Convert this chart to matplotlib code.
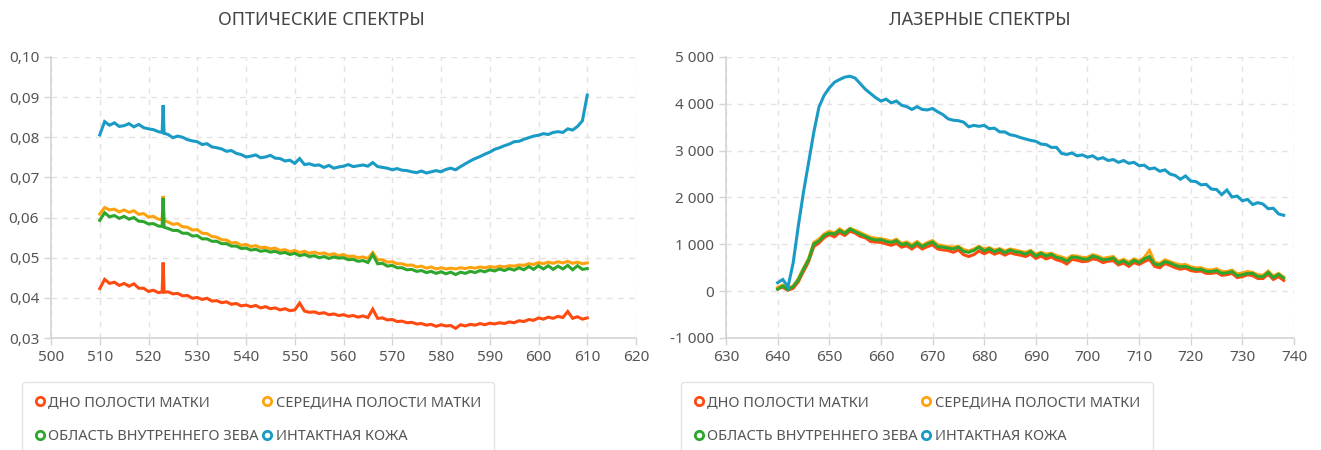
import numpy as np
import matplotlib
matplotlib.use("Agg")
import matplotlib.pyplot as plt
from matplotlib.lines import Line2D
from matplotlib.ticker import FuncFormatter, MultipleLocator

plt.rcParams['font.family'] = ['Noto Sans', 'DejaVu Sans']

labels = ["ДНО ПОЛОСТИ МАТКИ", "СЕРЕДИНА ПОЛОСТИ МАТКИ",
          "ОБЛАСТЬ ВНУТРЕННЕГО ЗЕВА", "ИНТАКТНАЯ КОЖА"]
colors = ["#ff4a10", "#ffa20f", "#2ea62e", "#1a9bc6"]

# ---- optical spectra (nm 510..610, extra points around the 523 nm spike)
wl_opt = list(range(510, 523)) + [522.8, 523.0, 523.2] + list(range(524, 611))

opt_red = [0.0423, 0.0446, 0.0436, 0.0439, 0.0431, 0.0436, 0.0429, 0.0435, 0.0424, 0.0424, 0.0416, 0.0419, 0.0413,
           0.0415, 0.0488, 0.0414,
           0.0415, 0.0410, 0.0411, 0.0405, 0.0406, 0.0399, 0.0401, 0.0396, 0.0399, 0.0392,
           0.0393, 0.0388, 0.0390, 0.0384, 0.0386, 0.0380, 0.0382, 0.0378, 0.0381, 0.0375,
           0.0378, 0.0373, 0.0375, 0.0370, 0.0373, 0.0368, 0.0370, 0.0387, 0.0367, 0.0364,
           0.0365, 0.0361, 0.0363, 0.0358, 0.0360, 0.0356, 0.0358, 0.0354, 0.0356, 0.0352,
           0.0355, 0.0351, 0.0372, 0.0349, 0.0350, 0.0345, 0.0346, 0.0341, 0.0342, 0.0338,
           0.0339, 0.0335, 0.0336, 0.0332, 0.0334, 0.0329, 0.0333, 0.0330, 0.0331, 0.0324,
           0.0333, 0.0330, 0.0334, 0.0332, 0.0336, 0.0333, 0.0337, 0.0335, 0.0338, 0.0336,
           0.0340, 0.0338, 0.0343, 0.0341, 0.0346, 0.0344, 0.0350, 0.0347, 0.0352, 0.0349,
           0.0354, 0.0351, 0.0366, 0.0349, 0.0353, 0.0347, 0.0350]
opt_orange = [0.0609, 0.0625, 0.0619, 0.0621, 0.0614, 0.0619, 0.0613, 0.0617, 0.0608, 0.0610, 0.0601, 0.0603, 0.0596,
              0.0595, 0.0654, 0.0593,
              0.0589, 0.0583, 0.0585, 0.0577, 0.0576, 0.0569, 0.0570, 0.0561, 0.0560, 0.0553,
              0.0551, 0.0545, 0.0544, 0.0537, 0.0538, 0.0531, 0.0533, 0.0528, 0.0530, 0.0525,
              0.0526, 0.0522, 0.0524, 0.0518, 0.0520, 0.0515, 0.0518, 0.0513, 0.0516, 0.0511,
              0.0514, 0.0510, 0.0512, 0.0507, 0.0510, 0.0505, 0.0508, 0.0503, 0.0504, 0.0500,
              0.0502, 0.0498, 0.0513, 0.0495, 0.0495, 0.0489, 0.0490, 0.0485, 0.0485, 0.0481,
              0.0482, 0.0477, 0.0479, 0.0474, 0.0477, 0.0472, 0.0475, 0.0472, 0.0474, 0.0472,
              0.0475, 0.0473, 0.0476, 0.0474, 0.0477, 0.0475, 0.0478, 0.0476, 0.0479, 0.0477,
              0.0480, 0.0479, 0.0482, 0.0481, 0.0485, 0.0483, 0.0488, 0.0485, 0.0489, 0.0486,
              0.0490, 0.0487, 0.0491, 0.0486, 0.0489, 0.0485, 0.0487]
opt_green = [0.0593, 0.0612, 0.0602, 0.0605, 0.0598, 0.0603, 0.0596, 0.0600, 0.0591, 0.0590, 0.0584, 0.0585, 0.0579,
             0.0578, 0.0649, 0.0576,
             0.0573, 0.0568, 0.0568, 0.0561, 0.0561, 0.0554, 0.0555, 0.0547, 0.0547, 0.0541,
             0.0541, 0.0535, 0.0535, 0.0529, 0.0529, 0.0523, 0.0524, 0.0519, 0.0521, 0.0516,
             0.0518, 0.0514, 0.0516, 0.0511, 0.0513, 0.0508, 0.0511, 0.0505, 0.0508, 0.0503,
             0.0505, 0.0500, 0.0503, 0.0498, 0.0502, 0.0499, 0.0500, 0.0495, 0.0496, 0.0491,
             0.0493, 0.0488, 0.0508, 0.0485, 0.0486, 0.0479, 0.0481, 0.0475, 0.0475, 0.0470,
             0.0471, 0.0466, 0.0468, 0.0463, 0.0466, 0.0461, 0.0465, 0.0460, 0.0464, 0.0458,
             0.0464, 0.0461, 0.0466, 0.0463, 0.0468, 0.0465, 0.0470, 0.0467, 0.0472, 0.0468,
             0.0473, 0.0469, 0.0475, 0.0470, 0.0478, 0.0471, 0.0480, 0.0472, 0.0480, 0.0471,
             0.0479, 0.0472, 0.0481, 0.0470, 0.0480, 0.0471, 0.0473]
opt_blue = [0.0806, 0.0839, 0.0830, 0.0836, 0.0827, 0.0829, 0.0834, 0.0826, 0.0832, 0.0824, 0.0821, 0.0819, 0.0814,
            0.0812, 0.0880, 0.0810,
            0.0807, 0.0799, 0.0803, 0.0800, 0.0794, 0.0791, 0.0789, 0.0782, 0.0784, 0.0776,
            0.0774, 0.0771, 0.0765, 0.0767, 0.0760, 0.0757, 0.0751, 0.0753, 0.0756, 0.0749,
            0.0751, 0.0755, 0.0748, 0.0747, 0.0741, 0.0743, 0.0735, 0.0747, 0.0732, 0.0734,
            0.0730, 0.0731, 0.0725, 0.0730, 0.0723, 0.0726, 0.0728, 0.0732, 0.0727, 0.0729,
            0.0731, 0.0728, 0.0737, 0.0727, 0.0725, 0.0723, 0.0719, 0.0722, 0.0718, 0.0717,
            0.0714, 0.0712, 0.0716, 0.0711, 0.0714, 0.0717, 0.0714, 0.0720, 0.0723, 0.0719,
            0.0727, 0.0734, 0.0741, 0.0747, 0.0752, 0.0758, 0.0763, 0.0770, 0.0774, 0.0779,
            0.0783, 0.0789, 0.0790, 0.0795, 0.0799, 0.0803, 0.0805, 0.0809, 0.0807, 0.0812,
            0.0814, 0.0812, 0.0821, 0.0818, 0.0827, 0.0841, 0.0905]

# ---- laser spectra (nm 640..738)
wl_las = list(range(640, 739))

las_red = [60, 80, 20, 60, 200, 420, 630, 950, 1030, 1140, 1210, 1160, 1250, 1190, 1280,
           1240, 1170, 1140, 1060, 1050, 1040, 1010, 980, 1020, 940, 970, 900, 980, 900, 950,
           990, 900, 880, 870, 830, 880, 780, 740, 780, 860, 800, 850, 790, 830, 770,
           820, 790, 770, 740, 790, 700, 750, 690, 730, 670, 640, 580, 680, 660, 630,
           640, 690, 670, 610, 640, 650, 560, 600, 530, 610, 570, 630, 680, 530, 500,
           590, 550, 500, 470, 490, 440, 420, 430, 380, 380, 400, 340, 350, 380, 290,
           310, 350, 330, 270, 270, 360, 250, 310, 230]
las_orange = [80, 130, 70, 110, 270, 490, 700, 1040, 1110, 1220, 1280, 1240, 1330, 1260, 1340,
              1300, 1250, 1200, 1150, 1130, 1120, 1100, 1060, 1110, 1020, 1050, 990, 1060, 980, 1040,
              1080, 990, 970, 950, 940, 960, 890, 860, 900, 960, 900, 930, 880, 910, 860,
              900, 880, 850, 830, 870, 790, 830, 790, 810, 760, 730, 690, 760, 750, 720,
              720, 780, 750, 700, 720, 740, 640, 680, 620, 690, 650, 720, 870, 620, 590,
              670, 630, 590, 560, 570, 520, 500, 500, 460, 450, 480, 420, 420, 450, 370,
              390, 420, 400, 350, 340, 430, 320, 380, 300]
las_green = [40, 110, 30, 100, 240, 470, 670, 1010, 1070, 1190, 1240, 1220, 1300, 1230, 1330,
             1270, 1220, 1170, 1120, 1090, 1100, 1060, 1040, 1080, 990, 1020, 950, 1030, 950, 1010,
             1050, 950, 940, 920, 900, 940, 850, 830, 870, 940, 860, 910, 840, 890, 820,
             880, 840, 830, 790, 850, 750, 810, 750, 790, 720, 700, 640, 730, 720, 690,
             680, 750, 720, 670, 680, 710, 600, 650, 580, 660, 610, 690, 740, 580, 560,
             630, 600, 550, 520, 530, 490, 460, 470, 420, 420, 440, 380, 390, 420, 330,
             350, 380, 380, 310, 310, 400, 290, 360, 280]
las_blue = [180, 250, 90, 600, 1390, 2110, 2750, 3390, 3930, 4180, 4340, 4460, 4520, 4570, 4590,
            4550, 4430, 4310, 4220, 4130, 4060, 4100, 4020, 4060, 3970, 3940, 3880, 3940, 3880, 3870,
            3900, 3830, 3770, 3680, 3650, 3640, 3610, 3510, 3540, 3520, 3540, 3470, 3480, 3400, 3400,
            3340, 3320, 3280, 3250, 3220, 3200, 3140, 3130, 3070, 3070, 2940, 2920, 2950, 2890, 2910,
            2860, 2890, 2820, 2850, 2790, 2810, 2750, 2790, 2730, 2750, 2680, 2690, 2610, 2630, 2560,
            2590, 2500, 2470, 2390, 2460, 2350, 2340, 2270, 2280, 2180, 2170, 2060, 2160, 2010, 2030,
            1930, 1960, 1850, 1890, 1860, 1760, 1770, 1650, 1620]

fig = plt.figure(figsize=(13.21, 4.5), dpi=100)
ax1 = fig.add_axes([51 / 1321, 1 - 338 / 450, 585 / 1321, 281 / 450])
ax2 = fig.add_axes([726 / 1321, 1 - 338 / 450, 568 / 1321, 281 / 450])

for ys, c in zip([opt_red, opt_orange, opt_green, opt_blue], colors):
    ax1.plot(wl_opt, ys, color=c, lw=2.2, solid_joinstyle='miter')
for ys, c in zip([las_red, las_orange, las_green, las_blue], colors):
    ax2.plot(wl_las, ys, color=c, lw=2.2, solid_joinstyle='miter')

ax1.set_xlim(500, 620)
ax1.set_ylim(0.03, 0.10)
ax1.xaxis.set_major_locator(MultipleLocator(10))
ax1.yaxis.set_major_locator(MultipleLocator(0.01))
ax1.yaxis.set_major_formatter(FuncFormatter(lambda v, p: f"{v:.2f}".replace(".", ",")))

ax2.set_xlim(630, 740)
ax2.set_ylim(-1000, 5000)
ax2.xaxis.set_major_locator(MultipleLocator(10))
ax2.yaxis.set_major_locator(MultipleLocator(1000))
ax2.yaxis.set_major_formatter(FuncFormatter(lambda v, p: f"{v:,.0f}".replace(",", " ")))

for ax in (ax1, ax2):
    for s in ("top", "right"):
        ax.spines[s].set_visible(False)
    for s in ("left", "bottom"):
        ax.spines[s].set_color("#d4d4d4")
        ax.spines[s].set_linewidth(1.2)
    ax.grid(True, color="#e3e3e3", linestyle=(0, (4, 4)), linewidth=1)
    ax.set_axisbelow(True)
    ax.tick_params(colors="#d4d4d4", labelcolor="#555555", labelsize=11, length=5, width=1)

fig.text(321 / 1321, 1 - 20 / 450, "ОПТИЧЕСКИЕ СПЕКТРЫ", ha="center", va="center",
         fontsize=13, color="#444444")
fig.text(980 / 1321, 1 - 20 / 450, "ЛАЗЕРНЫЕ СПЕКТРЫ", ha="center", va="center",
         fontsize=13, color="#444444")

# legend is filled row by row in the reference: red, orange / green, blue
order = [0, 2, 1, 3]
handles = [Line2D([], [], ls="none", marker="o", ms=6, mew=2, mfc="white", mec=colors[i]) for i in order]
leg_labels = [labels[i] for i in order]
for ax, x0 in ((ax1, 22), (ax2, 681)):
    leg = ax.legend(handles, leg_labels, ncol=2, loc="upper left",
                    bbox_to_anchor=(x0 / 1321, 1 - 382 / 450), bbox_transform=fig.transFigure,
                    frameon=True, fontsize=10.5, handlelength=0.6, handletextpad=0.3,
                    columnspacing=0.25, labelspacing=1.3, borderpad=0.9, borderaxespad=0,
                    fancybox=True)
    leg.get_frame().set_edgecolor("#dddddd")
    leg.get_frame().set_linewidth(1)
    for t in leg.get_texts():
        t.set_color("#555555")

fig.savefig("out.png", dpi=100)
